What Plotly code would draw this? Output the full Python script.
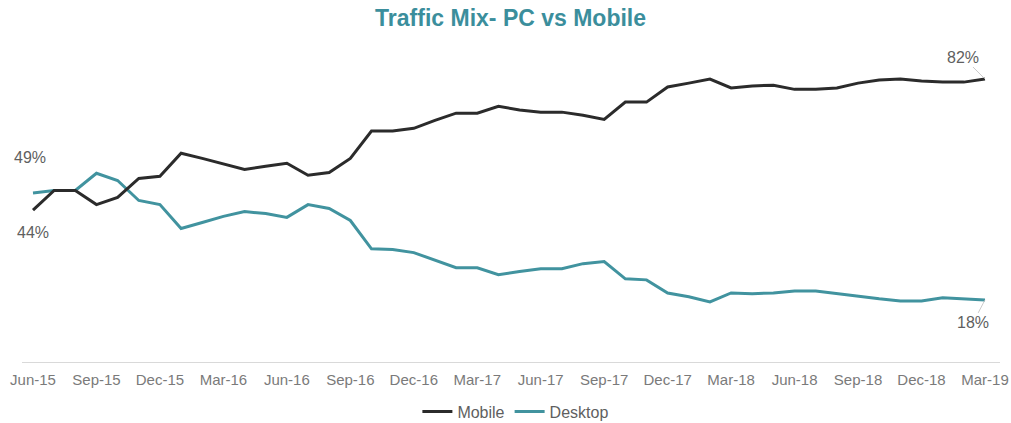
import pandas as pd
import plotly.graph_objects as go

# Monthly traffic share (%) from Jun-15 through Mar-19
months = list(pd.date_range("2015-06-01", periods=46, freq="MS").strftime("%b-%y"))

mobile = [44, 49.7, 49.7, 45.6, 47.7, 53.2, 53.8, 60.5, 59.0, 57.3,
          55.8, 56.7, 57.6, 54.1, 54.9, 59.0, 66.9, 66.9, 67.7, 70.0,
          72.1, 72.1, 74.1, 73.0, 72.4, 72.4, 71.5, 70.3, 75.3, 75.3,
          79.7, 80.8, 82.0, 79.4, 80.0, 80.2, 79.0, 79.0, 79.4, 80.8,
          81.7, 82.0, 81.4, 81.1, 81.1, 82]

desktop = [49, 49.7, 49.7, 54.7, 52.6, 46.8, 45.6, 38.7, 40.4, 42.2,
           43.6, 43.0, 41.9, 45.6, 44.5, 41.0, 32.8, 32.6, 31.7, 29.4,
           27.3, 27.3, 25.3, 26.2, 27.0, 27.0, 28.5, 29.1, 24.1, 23.8,
           20.0, 18.9, 17.4, 20.0, 19.8, 20.0, 20.6, 20.6, 19.8, 18.9,
           18.3, 17.7, 17.7, 18.6, 18.3, 18]

tick_labels = ["Jun-15", "Sep-15", "Dec-15", "Mar-16", "Jun-16", "Sep-16",
               "Dec-16", "Mar-17", "Jun-17", "Sep-17", "Dec-17", "Mar-18",
               "Jun-18", "Sep-18", "Dec-18", "Mar-19"]

MOBILE_COLOR = "#2b2b2b"
DESKTOP_COLOR = "#41939f"
LABEL_COLOR = "#5f5f5f"
FONT = "Liberation Sans, Arial, sans-serif"

fig = go.Figure()
fig.add_trace(go.Scatter(x=months, y=desktop, name="Desktop", mode="lines",
                         line=dict(color=DESKTOP_COLOR, width=3), legendrank=2))
fig.add_trace(go.Scatter(x=months, y=mobile, name="Mobile", mode="lines",
                         line=dict(color=MOBILE_COLOR, width=3), legendrank=1))

# End-point value labels
label_font = dict(family=FONT, size=16, color=LABEL_COLOR)
fig.add_annotation(x=months[0], y=desktop[0], text=f"{desktop[0]:.0f}%",
                   showarrow=False, xshift=-3, yshift=35, font=label_font)
fig.add_annotation(x=months[0], y=mobile[0], text=f"{mobile[0]:.0f}%",
                   showarrow=False, xshift=0, yshift=-22, font=label_font)
fig.add_annotation(x=months[-1], y=mobile[-1], text=f"{mobile[-1]:.0f}%",
                   showarrow=True, arrowhead=0, arrowwidth=0.8,
                   arrowcolor="#bdbdbd", ax=-22, ay=-22, standoff=0,
                   font=label_font)
fig.add_annotation(x=months[-1], y=desktop[-1], text=f"{desktop[-1]:.0f}%",
                   showarrow=True, arrowhead=0, arrowwidth=0.8,
                   arrowcolor="#bdbdbd", ax=-12, ay=23, standoff=0,
                   font=label_font)

fig.update_layout(
    width=1011, height=423,
    margin=dict(l=22, r=11, t=40, b=61, autoexpand=False),
    paper_bgcolor="white", plot_bgcolor="white",
    title=dict(text="<b>Traffic Mix- PC vs Mobile</b>", x=0.505, xanchor="center",
               y=0.957, yanchor="middle",
               font=dict(family=FONT, size=23, color="#3b8e9c")),
    showlegend=True,
    legend=dict(orientation="h", x=0.505, xanchor="center",
                yref="container", y=0.027, yanchor="middle",
                font=dict(family=FONT, size=16, color=LABEL_COLOR),
                itemwidth=30, tracegroupgap=0),
    xaxis=dict(type="category", range=[-0.52, 45.71], tickmode="array",
               tickvals=tick_labels, ticktext=tick_labels, showgrid=False,
               showline=True, linecolor="#d9d9d9", linewidth=1, ticks="",
               ticklabelstandoff=4,
               tickfont=dict(family=FONT, size=15, color="#7a7a7a"),
               zeroline=False),
    yaxis=dict(range=[0, 93.3], showgrid=False, showticklabels=False,
               zeroline=False, showline=False),
)

fig.write_html("out.html")
